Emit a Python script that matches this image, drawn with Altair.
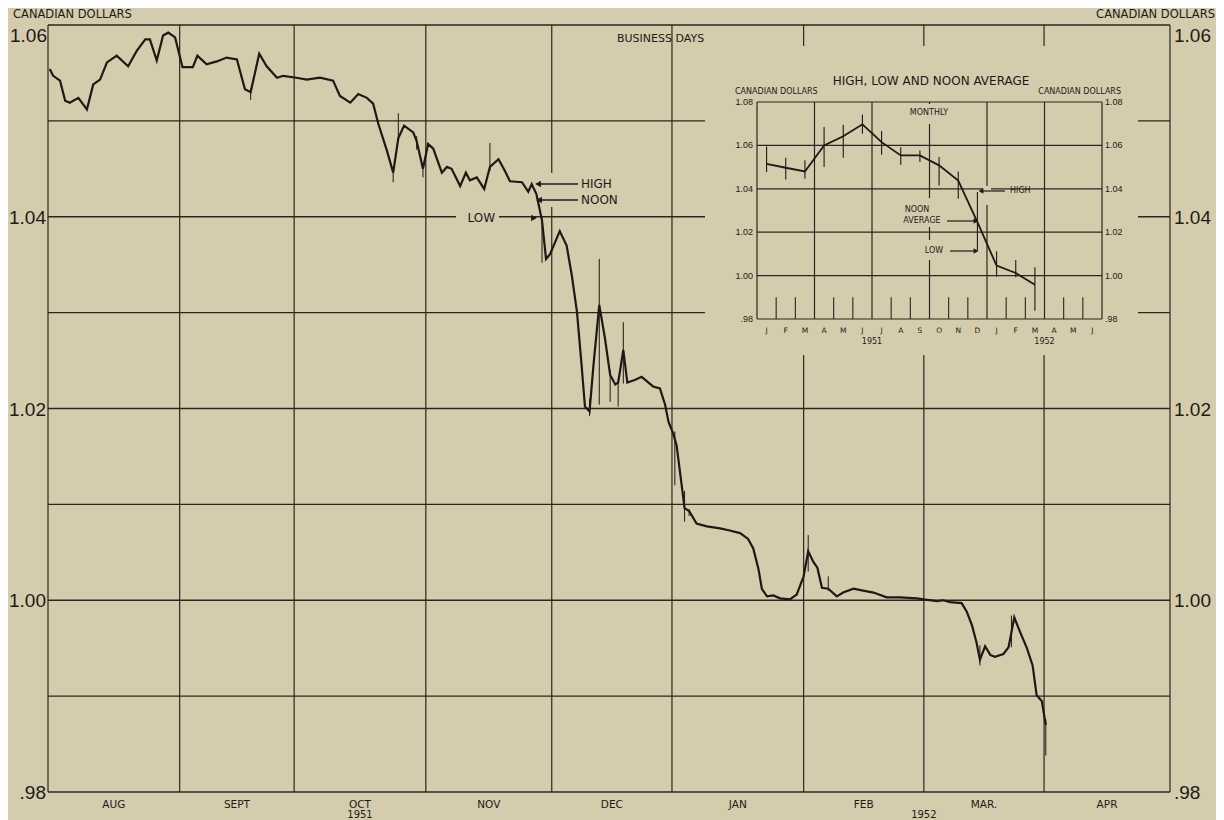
import altair as alt
import pandas as pd

# ---------------- data ----------------
# main chart: business-day position (0 = start of Aug 1951) and noon rate
noon_day = [0.3, 0.9, 2.1, 3.0, 3.8, 5.3, 6.8, 7.9, 9.1, 10.3,
            12.0, 14.0, 15.5, 17.0, 17.8, 19.0, 20.1, 21.0, 22.2, 23.5,
            25.3, 26.1, 27.7, 29.5, 31.2, 33.0, 34.4, 35.4, 36.9, 38.2,
            40.0, 41.1, 43.4, 45.2, 47.5, 49.8, 51.0, 52.8, 54.2, 55.7,
            56.8, 57.7, 59.2, 60.3, 61.2, 62.2, 63.8, 64.4, 65.5, 66.4,
            67.3, 68.8, 69.7, 70.5, 72.0, 73.0, 73.7, 74.9, 76.2, 77.2,
            78.7, 79.8, 80.7, 82.8, 83.9, 84.5, 85.3, 85.7, 86.3, 87.0,
            87.7, 89.4, 90.6, 91.5, 92.4, 93.2, 93.8, 94.6, 95.3, 96.3,
            97.3, 98.2, 99.1, 99.6, 100.5, 101.2, 102.6, 103.7, 104.9, 105.7,
            106.9, 107.8, 108.4, 109.2, 109.8, 110.4, 111.2, 112.0, 113.3, 115.1,
            117.4, 118.9, 120.9, 122.3, 123.2, 124.1, 124.7, 125.6, 126.7, 127.9,
            129.6, 130.8, 132.0, 132.8, 133.7, 134.4, 135.2, 136.3, 137.8, 138.9,
            140.7, 142.4, 144.2, 146.5, 148.8, 151.8, 152.9, 155.3, 156.4, 157.6,
            159.6, 160.5, 161.4, 162.2, 162.8, 163.7, 164.6, 165.4, 166.9, 167.8,
            168.8, 169.8, 171.0, 172.0, 172.7, 173.6, 174.3]
noon_val = [1.0554, 1.0547, 1.0542, 1.0521, 1.0519, 1.0524, 1.0512, 1.0538, 1.0543, 1.0561,
            1.0568, 1.0557, 1.0573, 1.0585, 1.0585, 1.0563, 1.0589, 1.0592, 1.0587, 1.0556,
            1.0556, 1.0568, 1.0559, 1.0562, 1.0566, 1.0564, 1.0533, 1.0530, 1.0570, 1.0557,
            1.0545, 1.0547, 1.0545, 1.0543, 1.0545, 1.0542, 1.0526, 1.0519, 1.0528, 1.0524,
            1.0518, 1.0497, 1.0469, 1.0446, 1.0482, 1.0495, 1.0488, 1.0479, 1.0450, 1.0476,
            1.0471, 1.0446, 1.0452, 1.0450, 1.0432, 1.0446, 1.0438, 1.0441, 1.0429, 1.0452,
            1.0460, 1.0448, 1.0437, 1.0436, 1.0426, 1.0434, 1.0424, 1.0413, 1.0396, 1.0356,
            1.0361, 1.0385, 1.0370, 1.0339, 1.0301, 1.0246, 1.0202, 1.0197, 1.0246, 1.0308,
            1.0273, 1.0235, 1.0225, 1.0227, 1.0261, 1.0227, 1.0230, 1.0233, 1.0227, 1.0223,
            1.0221, 1.0204, 1.0186, 1.0174, 1.0162, 1.0134, 1.0096, 1.0093, 1.0080, 1.0077,
            1.0075, 1.0073, 1.0070, 1.0064, 1.0054, 1.0033, 1.0012, 1.0004, 1.0005, 1.0002,
            1.0001, 1.0006, 1.0025, 1.0051, 1.0040, 1.0034, 1.0013, 1.0012, 1.0004, 1.0008,
            1.0012, 1.0010, 1.0008, 1.0003, 1.0003, 1.0002, 1.0001, 0.9999, 1.0000, 0.9998,
            0.9997, 0.9988, 0.9974, 0.9956, 0.9938, 0.9952, 0.9943, 0.9941, 0.9944, 0.9951,
            0.9982, 0.9967, 0.9950, 0.9932, 0.9901, 0.9895, 0.9870]

# daily high / low ticks that stand out from the noon line
hl_day = [35.4, 60.3, 61.2, 64.4, 65.5, 77.2, 86.3, 94.6, 96.3, 98.2,
          99.6, 100.5, 109.5, 111.2, 112.0, 132.8, 136.3, 162.8, 168.3, 174.3]
hl_high = [1.0534, 1.0450, 1.0508, 1.0484, 1.0452, 1.0477, 1.0400, 1.0210, 1.0356, 1.0240,
           1.0230, 1.0290, 1.0176, 1.0114, 1.0095, 1.0068, 1.0025, 0.9953, 0.9984, 0.9876]
hl_low = [1.0522, 1.0436, 1.0478, 1.0470, 1.0441, 1.0448, 1.0352, 1.0192, 1.0204, 1.0207,
          1.0202, 1.0226, 1.0120, 1.0082, 1.0088, 1.0030, 1.0010, 0.9932, 0.9951, 0.9838]

month_names = ["AUG", "SEPT", "OCT", "NOV", "DEC", "JAN", "FEB", "MAR.", "APR"]
month_bdays = [23, 20, 23, 22, 21, 23, 21, 21, 22]
grid_levels = [0.98, 0.99, 1.00, 1.01, 1.02, 1.03, 1.04, 1.05, 1.06]
left_labels = [1.04, 1.02, 1.00, 0.98]
left_texts = ["1.04", "1.02", "1.00", ".98"]

# inset: monthly high, low and noon average, Jan 1951 .. Mar 1952
inset_letters = ["J", "F", "M", "A", "M", "J", "J", "A", "S", "O", "N", "D",
                 "J", "F", "M", "A", "M", "J"]
inset_noon = [1.0515, 1.0497, 1.0480, 1.0600, 1.0642, 1.0697, 1.0615, 1.0554, 1.0554,
              1.0508, 1.0438, 1.0246, 1.0046, 1.0012, 0.9958]
inset_high = [1.0595, 1.0543, 1.0531, 1.0685, 1.0695, 1.0742, 1.0666, 1.0592, 1.0577,
              1.0546, 1.0480, 1.0385, 1.0112, 1.0072, 1.0038]
inset_low = [1.0477, 1.0443, 1.0446, 1.0500, 1.0543, 1.0654, 1.0557, 1.0511, 1.0523,
             1.0415, 1.0354, 1.0115, 0.9995, 0.9992, 0.9838]
inset_levels = [0.98, 1.00, 1.02, 1.04, 1.06, 1.08]
inset_texts = [".98", "1.00", "1.02", "1.04", "1.06", "1.08"]

# ---------------- styling ----------------
BG = "#d5ccae"
INK = "#1d1a16"
GRID = "#2a2621"
LETTER = "DejaVu Sans"
BIG = "Liberation Sans"
W, H = 1122, 767

XS = alt.Scale(domain=[0, 196], nice=False, zero=False)
YS = alt.Scale(domain=[0.98, 1.06], nice=False, zero=False)
IX = alt.Scale(domain=[0, 18], range=[709, 1054], nice=False, zero=False)
IY = alt.Scale(domain=[0.98, 1.08], range=[294, 77], nice=False, zero=False)

# ---------------- tables ----------------
bounds = [0]
for n in month_bdays:
    bounds.append(bounds[-1] + n)
mids = [(bounds[i] + bounds[i + 1]) / 2 for i in range(len(month_names))]

noon_df = pd.DataFrame({"day": noon_day, "rate": noon_val})
hl_df = pd.DataFrame({"day": hl_day, "high": hl_high, "low": hl_low})
hgrid_df = pd.DataFrame({"v": grid_levels})
vgrid_df = pd.DataFrame({"d": bounds})
month_df = pd.DataFrame({"mid": mids, "name": month_names})
year_df = pd.DataFrame({"d": [mids[2], bounds[7]], "t": ["1951", "1952"]})
lab_df = pd.DataFrame({"v": left_labels, "t": left_texts})
top_df = pd.DataFrame({"v": [1.06], "t": ["1.06"]})

im_df = pd.DataFrame({"m": [i + 0.5 for i in range(len(inset_noon))],
                      "noon": inset_noon, "high": inset_high, "low": inset_low})
ih_df = pd.DataFrame({"v": inset_levels, "t": inset_texts})
iv_df = pd.DataFrame({"m": [0, 3, 6, 9, 12, 15, 18]})
itick_df = pd.DataFrame({"m": [m for m in range(1, 18) if m % 3 != 0],
                         "a": 0.98, "b": 0.99})
ilet_df = pd.DataFrame({"m": [i + 0.5 for i in range(len(inset_letters))],
                        "t": inset_letters})
iyear_df = pd.DataFrame({"m": [6, 15], "t": ["1951", "1952"]})

one = pd.DataFrame({"a": [0]})


def X(f, s=XS):
    return alt.X(f, type="quantitative", scale=s, axis=None)


def Y(f, s=YS):
    return alt.Y(f, type="quantitative", scale=s, axis=None)


def cover(x1, x2, y1, y2):
    return alt.Chart(one).mark_rect(color=BG).encode(
        x=alt.value(x1), x2=alt.value(x2), y=alt.value(y1), y2=alt.value(y2))


def seg(x1, x2, y, w=1.3):
    return alt.Chart(one).mark_rule(color=INK, strokeWidth=w).encode(
        x=alt.value(x1), x2=alt.value(x2), y=alt.value(y))


def head(x, y, shape, size=45):
    return alt.Chart(one).mark_point(shape=shape, filled=True, color=INK,
                                     size=size, opacity=1).encode(
        x=alt.value(x), y=alt.value(y))


def txt(s, x, y, size=11, align="left", font=LETTER):
    return alt.Chart(one).mark_text(text=s, align=align, baseline="middle",
                                    fontSize=size, font=font, color=INK).encode(
        x=alt.value(x), y=alt.value(y))


layers = []
# main grid
layers.append(alt.Chart(hgrid_df).mark_rule(color=GRID, strokeWidth=1.3).encode(y=Y("v")))
layers.append(alt.Chart(vgrid_df).mark_rule(color=GRID, strokeWidth=1.2).encode(x=X("d")))
# blanked areas (inset panel, label gaps)
layers.append(cover(657, 1090, 21, 330))
layers.append(cover(408, 451, 186, 200))
layers.append(cover(498, 507, 148, 182))
# high-low ticks and noon line
layers.append(alt.Chart(hl_df).mark_rule(color=INK, strokeWidth=1).encode(
    x=X("day"), y=Y("high"), y2="low"))
layers.append(alt.Chart(noon_df).mark_line(color=INK, strokeWidth=2.2).encode(
    x=X("day"), y=Y("rate")))
# annotations main
layers += [seg(492, 530, 159), head(490, 159, "triangle-left"),
           seg(493, 530, 175), head(491, 175, "triangle-left"),
           head(486, 193, "triangle-right"),
           txt("HIGH", 533, 159, 12), txt("NOON", 533, 175, 12),
           txt("LOW", 447, 193, 12, "right")]
# titles
layers += [txt("CANADIAN DOLLARS", -35, -10, 11.5),
           txt("CANADIAN DOLLARS", 1167, -10, 11.5, "right"),
           txt("BUSINESS DAYS", 569, 14, 11)]
# axis labels main
layers.append(alt.Chart(month_df).mark_text(fontSize=10.5, font=LETTER, color=INK,
                                            baseline="middle").encode(
    x=X("mid"), y=alt.value(780), text="name:N"))
layers.append(alt.Chart(year_df).mark_text(fontSize=10, font=LETTER, color=INK,
                                           baseline="middle").encode(
    x=X("d"), y=alt.value(790), text="t:N"))
layers.append(alt.Chart(lab_df).mark_text(fontSize=19, font=BIG, color=INK, align="right",
                                          baseline="middle", dx=-2, dy=1).encode(
    y=Y("v"), x=alt.value(0), text="t:N"))
layers.append(alt.Chart(lab_df).mark_text(fontSize=19, font=BIG, color=INK, align="left",
                                          baseline="middle", dx=4, dy=1).encode(
    y=Y("v"), x=alt.value(W), text="t:N"))
layers.append(alt.Chart(top_df).mark_text(fontSize=19, font=BIG, color=INK, align="right",
                                          baseline="middle", dx=-1, dy=11).encode(
    y=Y("v"), x=alt.value(0), text="t:N"))
layers.append(alt.Chart(top_df).mark_text(fontSize=19, font=BIG, color=INK, align="left",
                                          baseline="middle", dx=4, dy=11).encode(
    y=Y("v"), x=alt.value(W), text="t:N"))

# ---------------- inset ----------------
layers.append(alt.Chart(ih_df).mark_rule(color=GRID, strokeWidth=1.2).encode(
    y=Y("v", IY), x=alt.value(709), x2=alt.value(1054)))
layers.append(alt.Chart(iv_df).mark_rule(color=GRID, strokeWidth=1.2).encode(
    x=X("m", IX), y=alt.value(77), y2=alt.value(294)))
layers.append(alt.Chart(itick_df).mark_rule(color=GRID, strokeWidth=1.1).encode(
    x=X("m", IX), y=Y("a", IY), y2="b"))
layers += [cover(877, 885, 79, 99), cover(877, 885, 173, 202), cover(877, 885, 215, 235),
           cover(935, 943, 161, 180)]
layers.append(alt.Chart(im_df).mark_rule(color=INK, strokeWidth=1.1).encode(
    x=X("m", IX), y=Y("high", IY), y2="low"))
layers.append(alt.Chart(im_df).mark_line(color=INK, strokeWidth=1.8).encode(
    x=X("m", IX), y=Y("noon", IY)))
layers.append(alt.Chart(ih_df).mark_text(fontSize=9, font=BIG, color=INK, align="right",
                                         baseline="middle").encode(
    y=Y("v", IY), x=alt.value(705), text="t:N"))
layers.append(alt.Chart(ih_df).mark_text(fontSize=9, font=BIG, color=INK, align="left",
                                         baseline="middle").encode(
    y=Y("v", IY), x=alt.value(1057), text="t:N"))
layers.append(alt.Chart(ilet_df).mark_text(fontSize=7.5, font=LETTER, color=INK,
                                           baseline="middle").encode(
    x=X("m", IX), y=alt.value(306), text="t:N"))
layers.append(alt.Chart(iyear_df).mark_text(fontSize=8, font=LETTER, color=INK,
                                            baseline="middle").encode(
    x=X("m", IX), y=alt.value(317), text="t:N"))
layers += [txt("HIGH, LOW AND NOON AVERAGE", 883, 56, 12, "center"),
           txt("CANADIAN DOLLARS", 687, 67, 8),
           txt("CANADIAN DOLLARS", 1073, 67, 8, "right"),
           txt("MONTHLY", 881, 88, 8, "center"),
           txt("HIGH", 962, 166, 8), seg(935, 957, 166, 1.2), head(933, 166, "triangle-left", 30),
           txt("NOON", 869, 185, 8, "center"), txt("AVERAGE", 874, 196, 8, "center"),
           seg(899, 926, 196, 1.2), head(928, 196, "triangle-right", 30),
           txt("LOW", 886, 226, 8, "center"),
           seg(902, 926, 226, 1.2), head(928, 226, "triangle-right", 30)]

chart = alt.layer(*layers).resolve_scale(
    x="independent", y="independent"
).properties(
    width=W, height=H,
    padding={"left": 40, "top": 17, "right": 46, "bottom": 28},
    autosize=alt.AutoSizeParams(type="none"),
).configure(background=BG).configure_view(stroke=None)

chart.save("out.html", embed_options={"renderer": "svg", "actions": False})
